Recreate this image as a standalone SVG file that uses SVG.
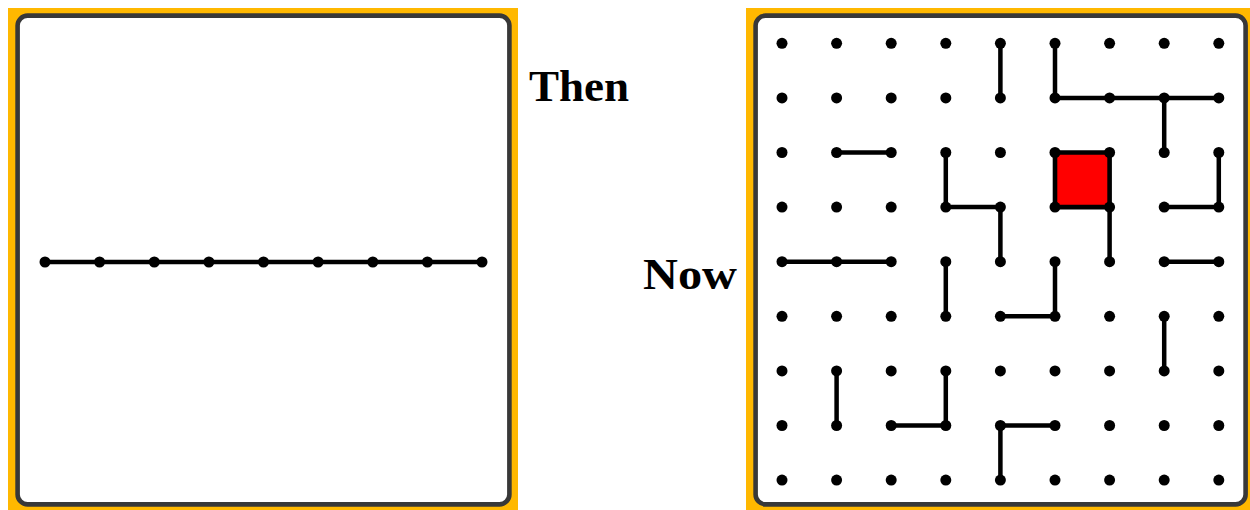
<svg xmlns="http://www.w3.org/2000/svg" width="1250" height="510" viewBox="0 0 1250 510">
<style>
.frame{fill:#FFB800}
.panel{fill:#ffffff;stroke:#383838;stroke-width:4.6}
.dot{fill:#000}
.ln{stroke:#000;stroke-width:4.5;stroke-linecap:round;fill:none}
.lbl{font-family:"Liberation Serif","Times New Roman",serif;font-weight:bold;font-size:45px;fill:#000}
</style>
<defs>
<circle id="d" r="5.5" class="dot"/>
</defs>
<g id="then-panel">
<rect class="frame" x="8" y="8" width="510" height="502"/>
<rect class="panel" x="17.6" y="15.6" width="491.8" height="488.8" rx="10"/>
</g>
<g id="now-panel">
<rect class="frame" x="746" y="8" width="504" height="502"/>
<rect class="panel" x="755.6" y="15.6" width="490" height="488.8" rx="10"/>
</g>
<g id="labels">
<text class="lbl" x="529" y="101" textLength="100" lengthAdjust="spacingAndGlyphs">Then</text>
<text class="lbl" x="643" y="289" textLength="94" lengthAdjust="spacingAndGlyphs">Now</text>
</g>
<g id="connectors">
<line class="ln" x1="45" y1="262" x2="482" y2="262"/>
<g transform="translate(782,43.3)">
<rect x="273" y="109.2" width="54.6" height="54.6" fill="#ff0000" stroke="#000" stroke-width="4.6" stroke-linejoin="round"/>
<path class="ln" d="M218.4 0V54.6 M273 0V54.6H436.8 M382.2 54.6V109.2 M54.6 109.2H109.2 M163.8 109.2V163.8H218.4V218.4 M436.8 109.2V163.8H382.2 M327.6 163.8V218.4 M0 218.4H109.2 M163.8 218.4V273 M273 218.4V273H218.4 M382.2 218.4H436.8 M382.2 273V327.6 M54.6 327.6V382.2 M163.8 327.6V382.2H109.2 M273 382.2H218.4V436.8"/>
</g>
</g>
<g id="dots-then">
<use href="#d" x="45" y="262"/><use href="#d" x="99.6" y="262"/><use href="#d" x="154.3" y="262"/><use href="#d" x="208.9" y="262"/><use href="#d" x="263.5" y="262"/><use href="#d" x="318.1" y="262"/><use href="#d" x="372.8" y="262"/><use href="#d" x="427.4" y="262"/><use href="#d" x="482" y="262"/>
</g>
<g id="dots-now" transform="translate(782,43.3)">
<g id="row"><use href="#d" x="0"/><use href="#d" x="54.6"/><use href="#d" x="109.2"/><use href="#d" x="163.8"/><use href="#d" x="218.4"/><use href="#d" x="273"/><use href="#d" x="327.6"/><use href="#d" x="382.2"/><use href="#d" x="436.8"/></g>
<use href="#row" y="54.6"/><use href="#row" y="109.2"/><use href="#row" y="163.8"/><use href="#row" y="218.4"/><use href="#row" y="273"/><use href="#row" y="327.6"/><use href="#row" y="382.2"/><use href="#row" y="436.8"/>
</g>
</svg>
